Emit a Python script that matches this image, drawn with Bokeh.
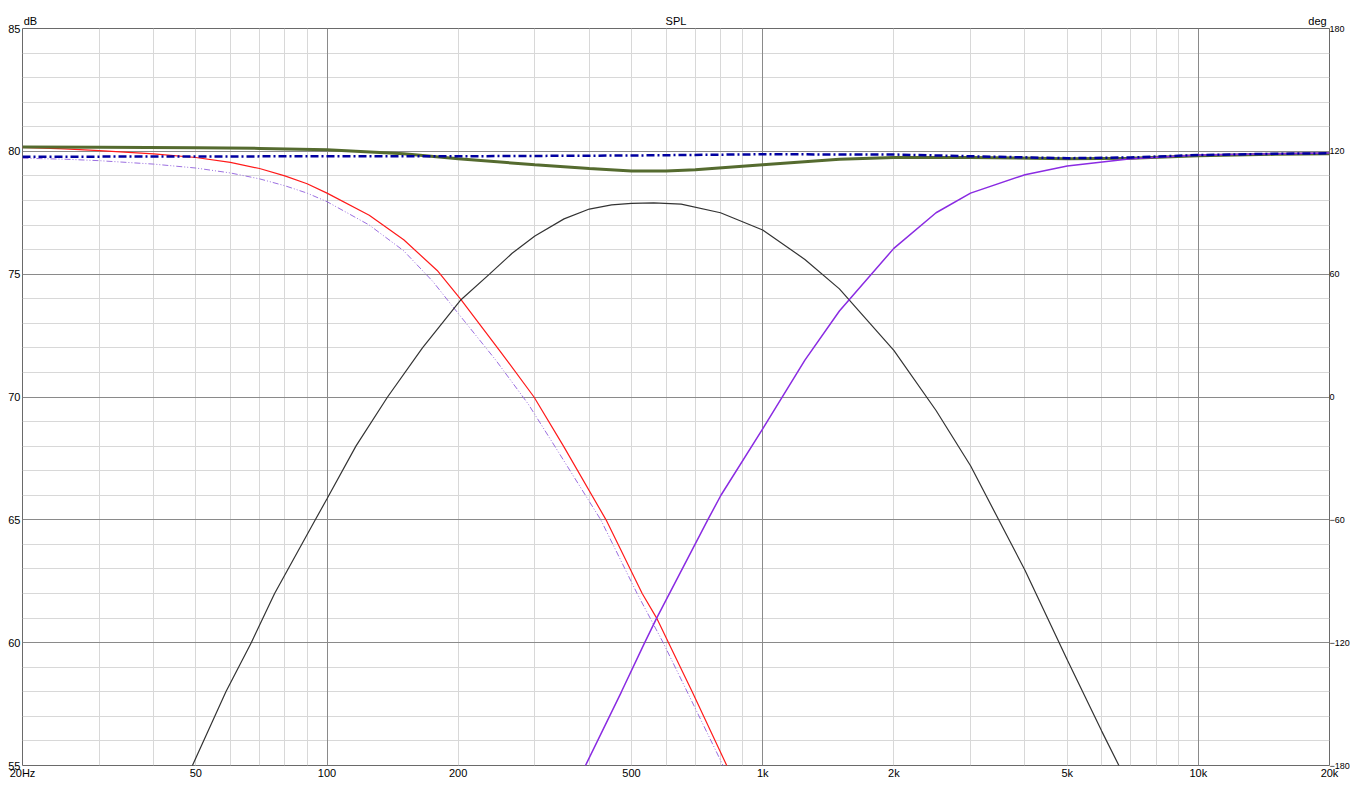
from bokeh.plotting import figure
from bokeh.models import FixedTicker, Grid, LinearAxis, LogAxis, Range1d
from bokeh.embed import file_html
from bokeh.resources import INLINE

# ---- data ----
x_ticks = [20, 50, 100, 200, 500, 1000, 2000, 5000, 10000, 20000]
x_tick_labels = ["20Hz", "50", "100", "200", "500", "1k", "2k", "5k", "10k", "20k"]
y_ticks = [55, 60, 65, 70, 75, 80, 85]
deg_ticks = [-180, -120, -60, 0, 60, 120, 180]
header_texts = ["dB", "SPL", "deg"]

# woofer (red)
f_red = [20, 25, 30, 40, 50, 60, 70, 80, 90, 100, 125, 150, 179, 203, 250, 298.6, 349, 437, 529, 571,
         608, 689, 827, 860]
spl_red = [80.16, 80.1, 80.03, 79.9, 79.75, 79.55, 79.3, 79.0, 78.68, 78.3, 77.4, 76.4, 75.15, 73.96,
           71.85, 70.0, 68.0, 65.0, 62.0, 61.0, 60.0, 58.0, 55.0, 54.3]

# woofer, second trace (violet dash-dot-dot)
f_violet = [20, 25, 30, 40, 50, 60, 70, 80, 90, 100, 125, 150, 175, 198, 244, 290, 340, 425, 515, 591,
            671, 811, 845]
spl_violet = [79.72, 79.68, 79.62, 79.48, 79.32, 79.12, 78.88, 78.6, 78.3, 77.95, 77.0, 75.95, 74.7,
              73.5, 71.5, 69.7, 67.75, 65.0, 62.0, 60.0, 58.0, 55.0, 54.3]

# midrange (dark grey)
f_mid = [45, 49.1, 58.6, 67, 75.8, 94, 100, 116.5, 137.7, 165.6, 203, 236, 266, 300, 350, 400, 450,
         500, 562, 650, 800, 1000, 1250, 1500, 2000, 2500, 3000, 4000, 5000, 6000, 6571, 7000]
spl_mid = [53.6, 55.0, 58.0, 60.0, 62.0, 65.0, 65.86, 68.0, 70.0, 72.0, 73.96, 75.0, 75.85, 76.55,
           77.25, 77.65, 77.82, 77.88, 77.9, 77.85, 77.5, 76.8, 75.6, 74.4, 71.9, 69.45, 67.2, 62.95,
           59.3, 56.4, 55.0, 54.0]

# tweeter (purple)
f_high = [380, 392, 474, 536, 571, 748, 802, 1000, 1250, 1500, 2000, 2500, 3000, 4000, 5000, 7000,
          10000, 15000, 20000]
spl_high = [54.5, 55.0, 58.0, 60.0, 61.0, 65.0, 66.0, 68.7, 71.5, 73.5, 76.05, 77.5, 78.3, 79.05,
            79.4, 79.7, 79.85, 79.9, 79.93]

# summed response (olive, thick)
f_sum = [20, 30, 50, 70, 100, 150, 200, 300, 400, 500, 600, 700, 1000, 1500, 2000, 3000, 5000, 7000,
         10000, 15000, 20000]
spl_sum = [80.18, 80.17, 80.15, 80.12, 80.06, 79.9, 79.7, 79.45, 79.3, 79.2, 79.2, 79.25, 79.45, 79.68,
           79.75, 79.75, 79.7, 79.72, 79.82, 79.88, 79.9]

# reference / target (navy dash-dot)
f_ref = [20, 50, 100, 200, 500, 1000, 2000, 3000, 5000, 7000, 10000, 15000, 20000]
spl_ref = [79.78, 79.79, 79.8, 79.8, 79.83, 79.88, 79.87, 79.8, 79.72, 79.75, 79.85, 79.9, 79.92]

x_minor = [30, 40, 50, 60, 70, 80, 90, 200, 300, 400, 500, 600, 700, 800, 900,
           2000, 3000, 4000, 5000, 6000, 7000, 8000, 9000]
x_major = [100, 1000, 10000]
y_minor = [v for v in range(56, 85) if v % 5 != 0]

# where the header texts sit along the top edge (layout, in axis units)
header_pos = [20.85, 632.5, 18770]

FONT = "Liberation Sans"

p = figure(width=1352, height=785, x_axis_type="log", x_range=(20, 20000), y_range=(55, 85),
           output_backend="svg", toolbar_location=None)
p.min_border_left = 22
p.min_border_right = 19
p.min_border_top = 28
p.min_border_bottom = 20
p.background_fill_color = "white"
p.border_fill_color = "white"
p.outline_line_color = "#6a6a6a"
p.outline_line_width = 1

p.extra_y_ranges = {"deg": Range1d(-180, 180)}

# axes
xa = p.xaxis[0]
xa.ticker = FixedTicker(ticks=x_ticks)
xa.major_label_overrides = {t: s for t, s in zip(x_ticks, x_tick_labels)}
ya = p.yaxis[0]
ya.ticker = FixedTicker(ticks=y_ticks)

top = LogAxis(ticker=FixedTicker(ticks=header_pos),
              major_label_overrides={t: s for t, s in zip(header_pos, header_texts)})
p.add_layout(top, "above")

right = LinearAxis(y_range_name="deg", ticker=FixedTicker(ticks=deg_ticks))
p.add_layout(right, "right")

for ax in (xa, ya, top, right):
    ax.axis_line_color = None
    ax.major_tick_line_color = None
    ax.minor_tick_line_color = None
    ax.major_tick_out = 0
    ax.major_tick_in = 0
    ax.minor_tick_out = 0
    ax.minor_tick_in = 0
    ax.major_label_text_font = FONT
    ax.major_label_text_font_size = "11px"
    ax.major_label_text_color = "#000000"
xa.major_label_standoff = 1
ya.major_label_standoff = 2
top.major_label_standoff = 2
right.major_label_standoff = 0
right.major_label_text_font_size = "9px"

# grids
p.xgrid.visible = False
p.ygrid.visible = False
p.add_layout(Grid(dimension=0, ticker=FixedTicker(ticks=x_minor), grid_line_color="#d8d8d8"), "center")
p.add_layout(Grid(dimension=1, ticker=FixedTicker(ticks=y_minor), grid_line_color="#d8d8d8"), "center")
p.add_layout(Grid(dimension=0, ticker=FixedTicker(ticks=x_major), grid_line_color="#8a8a8a"), "center")
p.add_layout(Grid(dimension=1, ticker=FixedTicker(ticks=y_ticks), grid_line_color="#8a8a8a"), "center")

# curves
p.line(f_red, spl_red, line_color="#ff1a1a", line_width=1.2)
p.line(f_violet, spl_violet, line_color="#9b6fe0", line_width=1, line_dash="6 2 1 2 1 2")
p.line(f_mid, spl_mid, line_color="#333333", line_width=1.2)
p.line(f_sum, spl_sum, line_color="#556b2f", line_width=3)
p.line(f_high, spl_high, line_color="#8a2be2", line_width=1.5)
p.line(f_ref, spl_ref, line_color="#0000a0", line_width=2.5, line_dash="8 3 2 3")

open("out.html", "w").write(file_html(p, INLINE))
